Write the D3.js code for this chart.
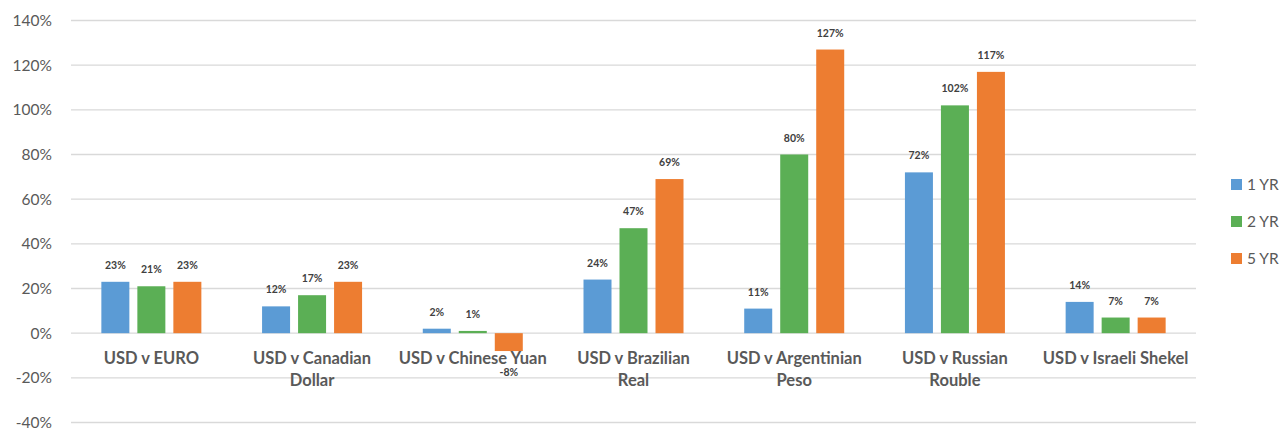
<!DOCTYPE html>
<html><head><meta charset="utf-8">
<script src="https://cdn.jsdelivr.net/npm/d3@7"></script>
<style>body{margin:0;background:#fff}svg{display:block}</style>
</head><body><svg id="c" width="1281" height="430"></svg>
<script>
const categories = [["USD v EURO"],["USD v Canadian","Dollar"],["USD v Chinese Yuan"],["USD v Brazilian","Real"],["USD v Argentinian","Peso"],["USD v Russian","Rouble"],["USD v Israeli Shekel"]];
const seriesNames = ["1 YR","2 YR","5 YR"];
const oneYr = [23,12,2,24,11,72,14];
const twoYr = [21,17,1,47,80,102,7];
const fiveYr = [23,23,-8,69,127,117,7];
const yTicks = [-40,-20,0,20,40,60,80,100,120,140];
const colors = ["#5B9BD5","#5BAF55","#ED7D31"];
const series = [oneYr,twoYr,fiveYr];

const svg = d3.select("#c");
const font = "Lato, 'Open Sans', sans-serif";
const x0 = d3.scaleBand().domain(d3.range(categories.length)).range([71,1196]).paddingInner(0).paddingOuter(0);
const y = d3.scaleLinear().domain([-40,140]).range([422.5,20.5]);
const barW = 28, gap = 8;

// gridlines
svg.append("g").selectAll("line").data(yTicks).join("line")
  .attr("x1",71).attr("x2",1196).attr("y1",d=>y(d)).attr("y2",d=>y(d))
  .attr("stroke","#d9d9d9").attr("stroke-width",1.3);
// tick labels
svg.append("g").selectAll("text").data(yTicks).join("text")
  .attr("x",52).attr("y",d=>y(d)).attr("dy","0.35em").attr("text-anchor","end")
  .attr("font-family",font).attr("font-size",15.5).attr("fill","#595959")
  .text(d=>d+"%");

const groupW = 3*barW+2*gap;
series.forEach((vals,si)=>{
  const g = svg.append("g");
  const bx = i => x0(i)+x0.bandwidth()/2 - groupW/2 + si*(barW+gap);
  g.selectAll("rect").data(vals).join("rect")
    .attr("x",(d,i)=>bx(i)).attr("width",barW)
    .attr("y",d=>y(Math.max(0,d))).attr("height",d=>Math.abs(y(d)-y(0)))
    .attr("fill",colors[si]);
  g.selectAll("text").data(vals).join("text")
    .attr("x",(d,i)=>bx(i)+barW/2)
    .attr("y",d=> d>=0 ? y(d)-13 : y(0)+43)
    .attr("text-anchor","middle").attr("font-family",font).attr("font-weight","bold")
    .attr("font-size",10.5).attr("fill","#404040")
    .text(d=>d+"%");
});

// category labels
const cg = svg.append("g");
categories.forEach((lines,i)=>{
  const t = cg.append("text").attr("x",x0(i)+x0.bandwidth()/2).attr("y",364)
    .attr("text-anchor","middle").attr("font-family",font).attr("font-weight","bold")
    .attr("font-size",16.5).attr("fill","#595959");
  lines.forEach((l,j)=>t.append("tspan").attr("x",x0(i)+x0.bandwidth()/2).attr("dy",j?22:0).text(l));
});

// legend
const lg = svg.append("g");
seriesNames.forEach((n,i)=>{
  const yy = 185 + i*37;
  lg.append("rect").attr("x",1231).attr("y",yy-6).attr("width",11).attr("height",11).attr("fill",colors[i]);
  lg.append("text").attr("x",1247).attr("y",yy).attr("dy","0.35em").attr("font-family",font)
    .attr("font-size",15.5).attr("fill","#595959").text(n);
});
</script></body></html>
